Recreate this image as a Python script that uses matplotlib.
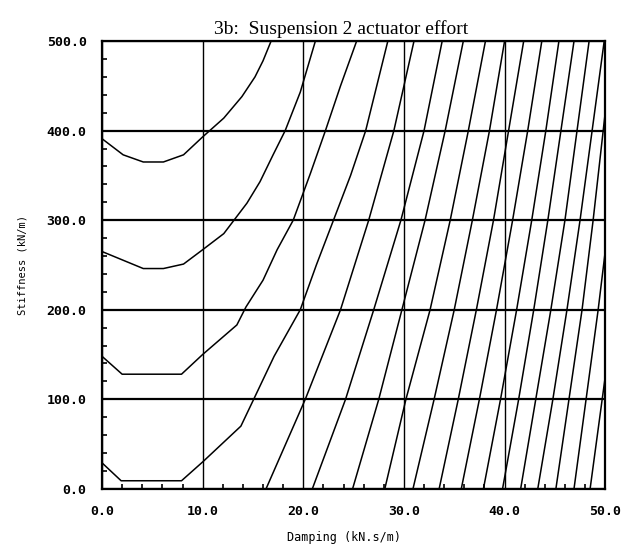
import matplotlib
matplotlib.use("Agg")
import matplotlib.pyplot as plt
from matplotlib.ticker import MultipleLocator, FormatStrFormatter

# Contour lines of actuator effort
# x = damping (kN.s/m), y = stiffness (kN/m)

# the four bowl shaped contours on the left
c1_x = [0.0, 2.1, 4.1, 6.1, 8.1, 10.0, 12.1, 13.9, 15.2, 16.0, 16.8]
c1_y = [391, 373, 365, 365, 373, 393, 414, 438, 460, 478, 500]

c2_x = [0.0, 4.1, 6.1, 8.1, 10.0, 12.1, 14.4, 15.7, 17.0, 18.2, 19.7, 21.2]
c2_y = [265, 246, 246, 251, 267, 285, 319, 343, 373, 400, 443, 500]

c3_x = [0.0, 2.0, 7.9, 10.0, 13.4, 14.3, 16.0, 17.4, 19.0, 20.7, 22.2, 23.7, 25.3]
c3_y = [148, 128, 128, 150, 183, 203, 233, 267, 300, 352, 400, 450, 500]

c4_x = [0.0, 1.9, 7.9, 10.0, 13.8, 15.2, 17.1, 19.7, 21.3, 23.0, 24.7, 26.2, 28.4]
c4_y = [29, 9, 9, 30, 70, 103, 148, 200, 250, 300, 350, 400, 500]

# the slanted contours, damping where each crosses stiffness 0,100,...,500
rows = [0, 100, 200, 300, 400, 500]
c5_x = [16.3, 20.2, 23.7, 26.5, 29.0, 31.0]
c6_x = [20.9, 24.2, 27.0, 29.7, 32.0, 33.8]
c7_x = [24.9, 27.5, 29.8, 32.1, 34.1, 35.9]
c8_x = [28.1, 30.2, 32.6, 34.6, 36.4, 38.1]
c9_x = [30.9, 33.0, 35.0, 36.8, 38.5, 40.0]
c10_x = [33.5, 35.4, 37.2, 38.9, 40.4, 41.9]
c11_x = [35.7, 37.5, 39.2, 40.8, 42.3, 43.7]
c12_x = [37.9, 39.6, 41.2, 42.7, 44.1, 45.4]
c13_x = [39.8, 41.4, 42.9, 44.3, 45.6, 46.9]
c14_x = [41.6, 43.1, 44.6, 46.0, 47.2, 48.4]
c15_x = [43.3, 44.8, 46.2, 47.5, 48.7, 49.9]

# these run out through the right edge
c16_x = [45.1, 46.4, 47.7, 48.8, 49.8, 50.0]
c16_y = [0, 100, 200, 300, 400, 420]
c17_x = [46.9, 48.1, 49.3, 50.0]
c17_y = [0, 100, 200, 265]
c18_x = [48.5, 49.7, 50.0]
c18_y = [0, 100, 125]

contours = [(c1_x, c1_y), (c2_x, c2_y), (c3_x, c3_y), (c4_x, c4_y),
            (c5_x, rows), (c6_x, rows), (c7_x, rows), (c8_x, rows),
            (c9_x, rows), (c10_x, rows), (c11_x, rows), (c12_x, rows),
            (c13_x, rows), (c14_x, rows), (c15_x, rows),
            (c16_x, c16_y), (c17_x, c17_y), (c18_x, c18_y)]

fig = plt.figure(figsize=(6.22, 5.48), dpi=100)
ax = fig.add_axes([0.164, 0.108, 0.809, 0.817])

for x, y in contours:
    ax.plot(x, y, color='black', lw=1.1)

ax.set_xlim(0, 50)
ax.set_ylim(0, 500)

# grid lines at the major ticks
ax.xaxis.set_major_locator(MultipleLocator(10))
ax.yaxis.set_major_locator(MultipleLocator(100))
ax.xaxis.set_minor_locator(MultipleLocator(2))
ax.yaxis.set_minor_locator(MultipleLocator(20))
ax.xaxis.set_major_formatter(FormatStrFormatter('%.1f'))
ax.yaxis.set_major_formatter(FormatStrFormatter('%.1f'))
ax.xaxis.grid(True, which='major', color='black', lw=1.0)
ax.yaxis.grid(True, which='major', color='black', lw=1.6)

ax.tick_params(which='major', length=0)
ax.tick_params(axis='x', which='major', pad=12)
ax.tick_params(axis='y', which='major', pad=11)
ax.tick_params(which='minor', direction='in', length=3.5, width=1.2, color='black')
for lab in ax.get_xticklabels() + ax.get_yticklabels():
    lab.set_family('DejaVu Sans Mono')
    lab.set_fontweight('bold')
    lab.set_fontsize(9.5)

for s in ax.spines.values():
    s.set_linewidth(1.6)

ax.set_xlabel('Damping (kN.s/m)', family='DejaVu Sans Mono', fontsize=8.5, labelpad=7)
ax.xaxis.set_label_coords(0.48, -0.095)
ax.set_ylabel('Stiffness (kN/m)', family='DejaVu Sans Mono', fontsize=7.5, labelpad=14)
ax.set_title('3b:  Suspension 2 actuator effort', family='Liberation Serif',
             fontsize=14, pad=5, x=0.475)

fig.savefig('out.png', dpi=100)
